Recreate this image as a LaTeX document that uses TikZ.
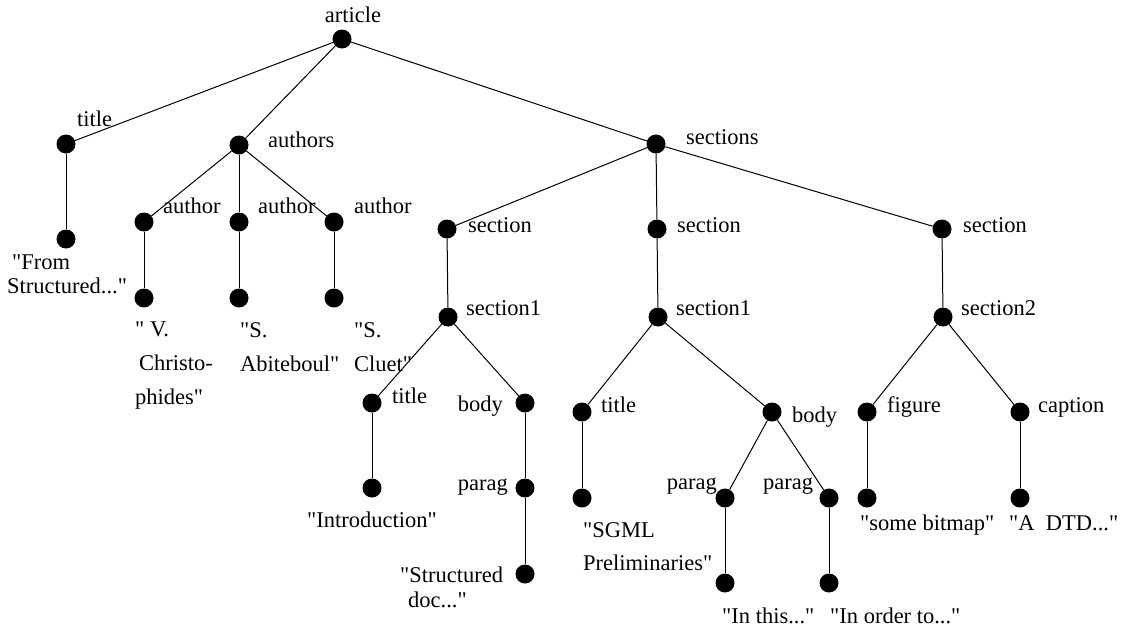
\documentclass[tikz,border=0pt]{standalone}
\usepackage{fontspec}
\setmainfont{Liberation Serif}[Ligatures=TeXOff]
\begin{document}
\begin{tikzpicture}[x=1pt,y=-1pt,
  dot/.style={circle,fill=black,inner sep=0,minimum size=19pt},
  lbl/.style={inner sep=0,font=\fontsize{22.5}{27}\selectfont},
  edge/.style={line width=1pt}]
\useasboundingbox (0,0) rectangle (1131,629);
% dots
\node[dot] (art) at (342,39) {};
\node[dot] (ti) at (66,144) {};
\node[dot] (tiL) at (66,239) {};
\node[dot] (aus) at (239,145) {};
\node[dot] (au1) at (144,222) {};
\node[dot] (au2) at (239,222) {};
\node[dot] (au3) at (334,222) {};
\node[dot] (au1L) at (144,298) {};
\node[dot] (au2L) at (239,298) {};
\node[dot] (au3L) at (334,298) {};
\node[dot] (secs) at (656,144) {};
\node[dot] (sA) at (447,229) {};
\node[dot] (sB) at (657,229) {};
\node[dot] (sC) at (942,229) {};
\node[dot] (sA1) at (448,317) {};
\node[dot] (sB1) at (658,317) {};
\node[dot] (sC2) at (943,317) {};
\node[dot] (aTi) at (372,403) {};
\node[dot] (aBo) at (525,403) {};
\node[dot] (aTiL) at (372,488) {};
\node[dot] (aPa) at (525,488) {};
\node[dot] (aPaL) at (525,574) {};
\node[dot] (bTi) at (582,412) {};
\node[dot] (bBo) at (772,412) {};
\node[dot] (bTiL) at (582,498) {};
\node[dot] (bPa1) at (725,498) {};
\node[dot] (bPa2) at (829,498) {};
\node[dot] (bPa1L) at (725,583) {};
\node[dot] (bPa2L) at (829,583) {};
\node[dot] (cFi) at (867,412) {};
\node[dot] (cCa) at (1020,412) {};
\node[dot] (cFiL) at (867,498) {};
\node[dot] (cCaL) at (1020,498) {};
% edges
\draw[edge] (art) -- (ti);
\draw[edge] (art) -- (aus);
\draw[edge] (art) -- (secs);
\draw[edge] (ti) -- (tiL);
\draw[edge] (aus) -- (au1);
\draw[edge] (aus) -- (au2);
\draw[edge] (aus) -- (au3);
\draw[edge] (au1) -- (au1L);
\draw[edge] (au2) -- (au2L);
\draw[edge] (au3) -- (au3L);
\draw[edge] (secs) -- (sA);
\draw[edge] (secs) -- (sB);
\draw[edge] (secs) -- (sC);
\draw[edge] (sA) -- (sA1);
\draw[edge] (sB) -- (sB1);
\draw[edge] (sC) -- (sC2);
\draw[edge] (sA1) -- (aTi);
\draw[edge] (sA1) -- (aBo);
\draw[edge] (aTi) -- (aTiL);
\draw[edge] (aBo) -- (aPa);
\draw[edge] (aPa) -- (aPaL);
\draw[edge] (sB1) -- (bTi);
\draw[edge] (sB1) -- (bBo);
\draw[edge] (bTi) -- (bTiL);
\draw[edge] (bBo) -- (bPa1);
\draw[edge] (bBo) -- (bPa2);
\draw[edge] (bPa1) -- (bPa1L);
\draw[edge] (bPa2) -- (bPa2L);
\draw[edge] (sC2) -- (cFi);
\draw[edge] (sC2) -- (cCa);
\draw[edge] (cFi) -- (cFiL);
\draw[edge] (cCa) -- (cCaL);
% labels (multi-line nodes are placed by the baseline of their last line)
\node[lbl,anchor=base] (Lart) at (353,22) {article};
\node[lbl,anchor=base west] (Lti) at (77,126) {title};
\node[lbl,anchor=base west,align=left,font=\fontsize{22.5}{24}\selectfont] (LtiL) at (12,293) {"From\\\hspace{-5pt}Structured..."};
\node[lbl,anchor=base west] (Laus) at (268,147) {authors};
\node[lbl,anchor=base west] (Lau1) at (163,213) {author};
\node[lbl,anchor=base west] (Lau2) at (258,213) {author};
\node[lbl,anchor=base west] (Lau3) at (354,213) {author};
\node[lbl,anchor=base west,align=left,font=\fontsize{22.5}{34}\selectfont] (Lau1L) at (135,404) {" V.\\\hspace{4pt}Christo-\\phides"};
\node[lbl,anchor=base west,align=left,font=\fontsize{22.5}{34}\selectfont] (Lau2L) at (240,371) {"S.\\Abiteboul"};
\node[lbl,anchor=base west,align=left,font=\fontsize{22.5}{34}\selectfont] (Lau3L) at (354,371) {"S.\\Cluet"};
\node[lbl,anchor=base west] (Lsecs) at (686,144) {sections};
\node[lbl,anchor=base west] (LsA) at (468,232) {section};
\node[lbl,anchor=base west] (LsB) at (677,232) {section};
\node[lbl,anchor=base west] (LsC) at (963,232) {section};
\node[lbl,anchor=base west] (LsA1) at (466,315) {section1};
\node[lbl,anchor=base west] (LsB1) at (676,315) {section1};
\node[lbl,anchor=base west] (LsC2) at (961,315) {section2};
\node[lbl,anchor=base west] (LaTi) at (392,403) {title};
\node[lbl,anchor=base east] (LaBo) at (503,411) {body};
\node[lbl,anchor=base] (LaTiL) at (372,527) {"Introduction"};
\node[lbl,anchor=base east] (LaPa) at (508,490) {parag};
\node[lbl,anchor=base west,align=left,font=\fontsize{22.5}{25}\selectfont] (LaPaL) at (400,607) {"Structured\\\hspace{8pt}doc..."};
\node[lbl,anchor=base west] (LbTi) at (601,412) {title};
\node[lbl,anchor=base west] (LbBo) at (792,422) {body};
\node[lbl,anchor=base west,align=left,font=\fontsize{22.5}{33}\selectfont] (LbTiL) at (583,570) {"SGML\\Preliminaries"};
\node[lbl,anchor=base east] (LbPa1) at (717,489) {parag};
\node[lbl,anchor=base west] (LbPa2) at (763,489) {parag};
\node[lbl,anchor=base west] (LbPa1L) at (722,623) {"In this..."};
\node[lbl,anchor=base west] (LbPa2L) at (830,623) {"In order to..."};
\node[lbl,anchor=base west] (LcFi) at (887,412) {figure};
\node[lbl,anchor=base west] (LcCa) at (1038,412) {caption};
\node[lbl,anchor=base west] (LcFiL) at (860,530) {"some bitmap"};
\node[lbl,anchor=base west] (LcCaL) at (1009,530) {"A\ \ DTD..."};
\end{tikzpicture}
\end{document}
